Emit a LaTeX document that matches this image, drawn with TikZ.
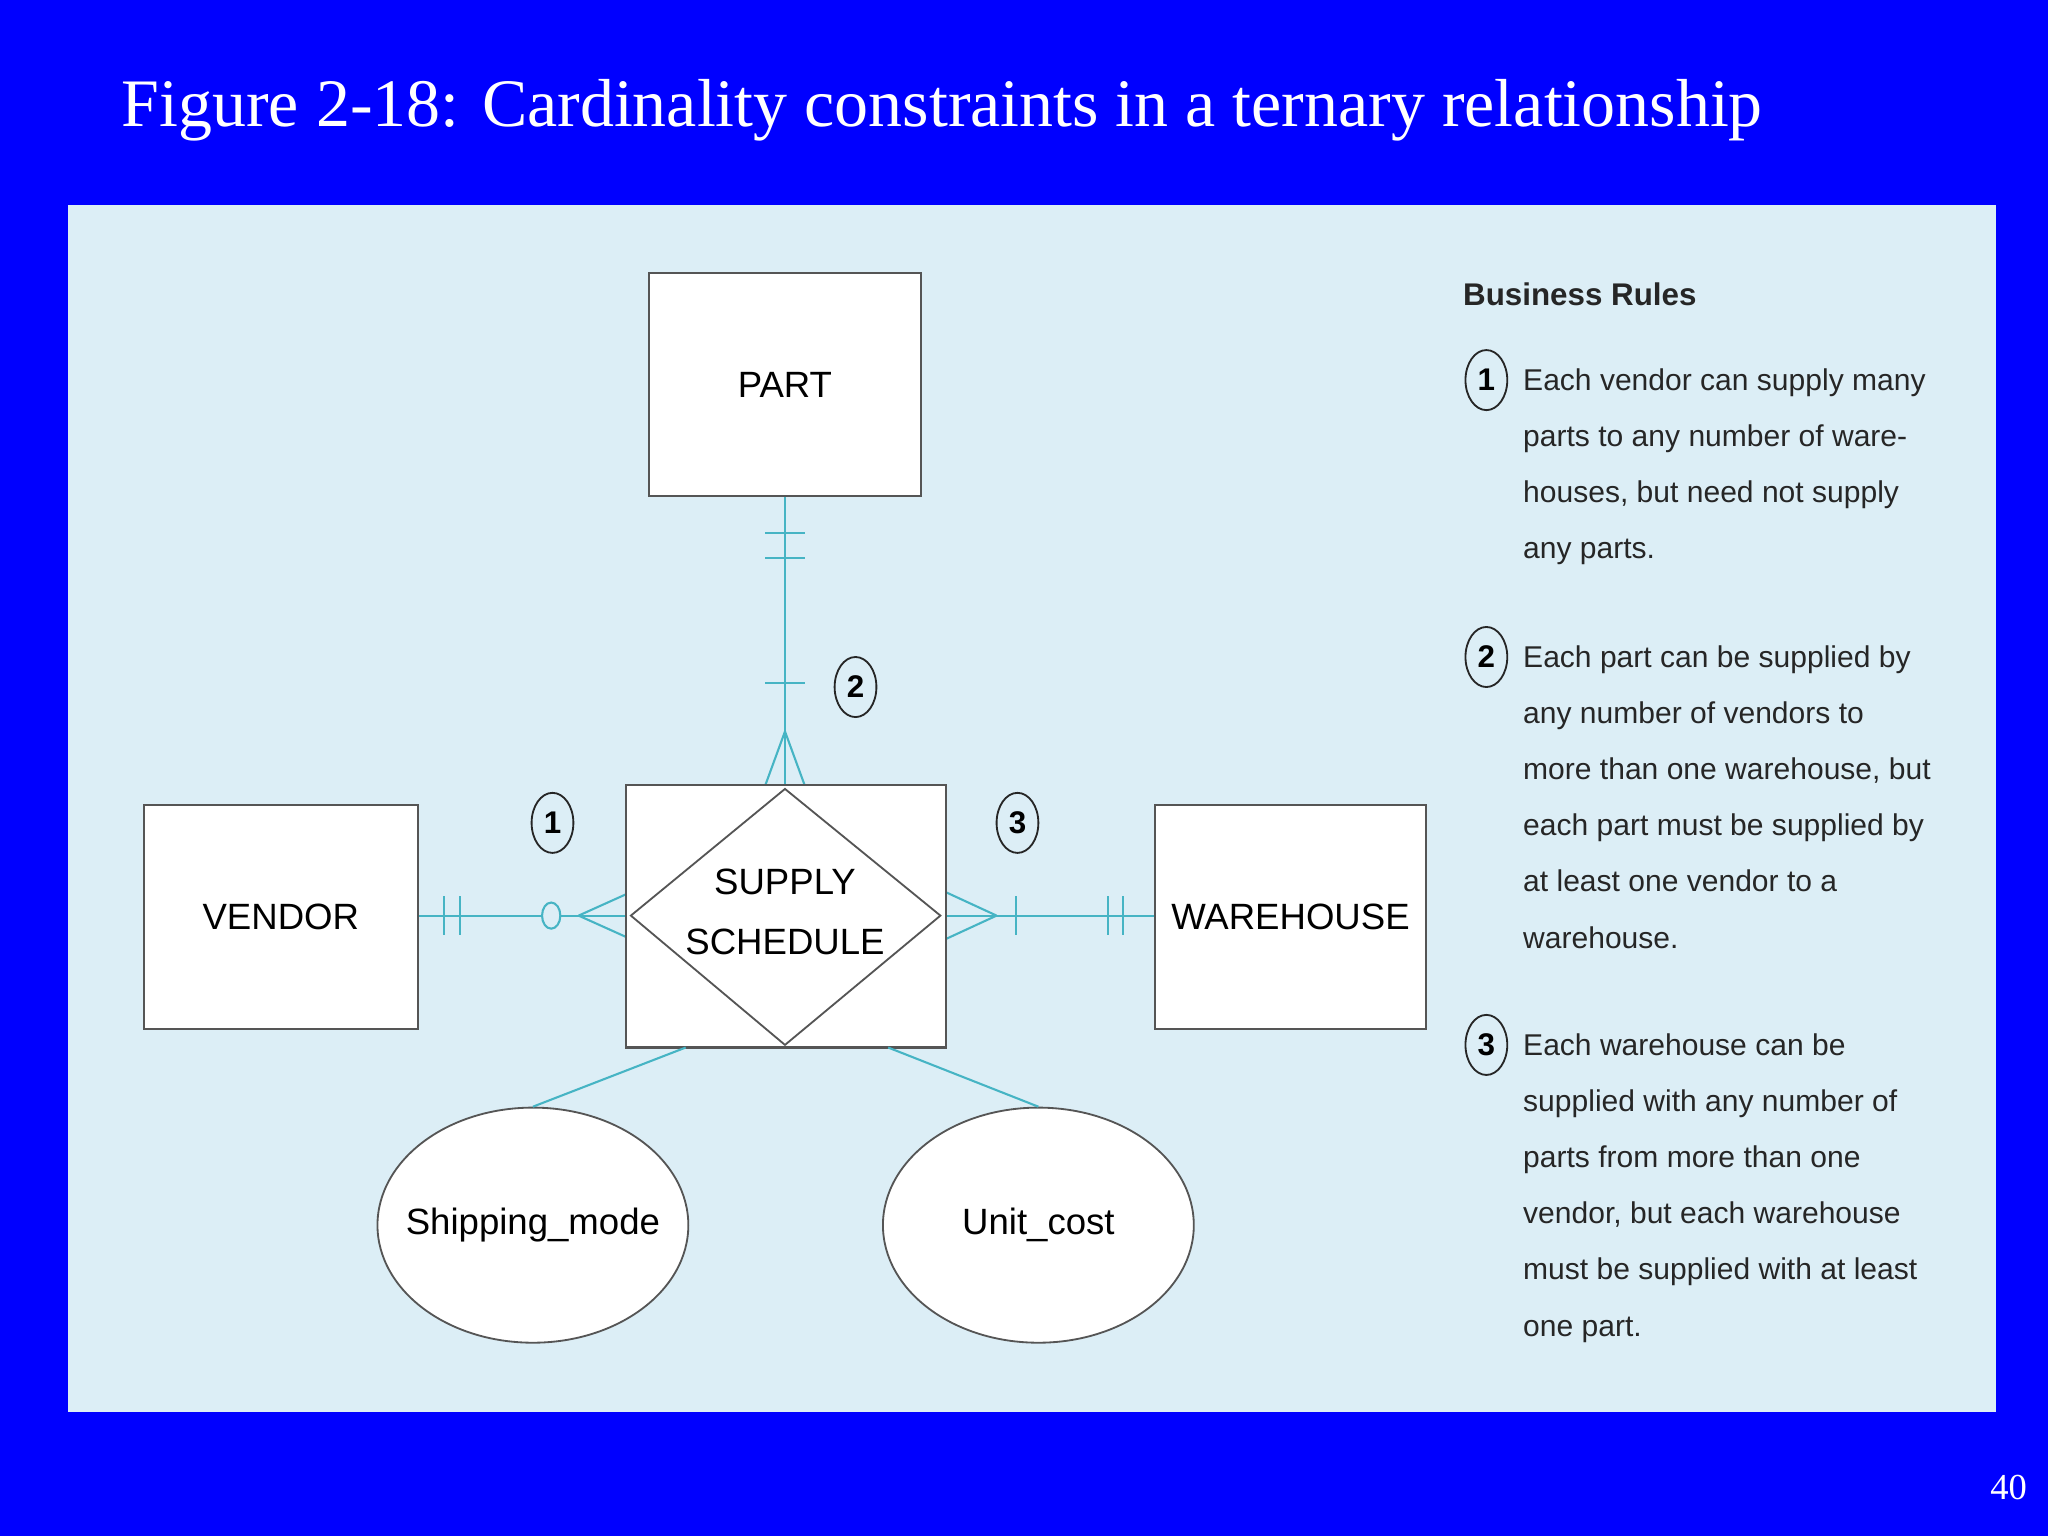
\documentclass[tikz,border=0pt]{standalone}
\usepackage{fontspec}
\setmainfont{Liberation Serif}
\newfontfamily\dsans{Liberation Sans}
\usetikzlibrary{shapes.geometric}
\definecolor{bgblue}{HTML}{0000FF}
\definecolor{panel}{HTML}{DCEEF6}
\definecolor{teal}{HTML}{46B4C4}
\definecolor{edge}{HTML}{555555}
\tikzset{x=1pt,y=-1pt,
 ent/.style={draw=edge,line width=1.6pt,fill=white,font=\dsans\fontsize{28}{30}\selectfont,inner sep=0pt},
 attr/.style={ellipse,draw=edge,line width=1.4pt,fill=white,inner ysep=0pt,inner xsep=-30pt,minimum width=238pt,minimum height=180pt,font=\dsans\fontsize{28}{30}\selectfont},
 conn/.style={draw=teal,line width=1.6pt},
 num/.style={ellipse,draw=black!85,line width=1.4pt,minimum width=32pt,minimum height=46pt,inner sep=0pt,font=\dsans\bfseries\fontsize{24}{26}\selectfont},
 rule/.style={anchor=north west,align=left,inner sep=0pt,font=\dsans\fontsize{23}{43}\selectfont,text=black!85}}
\begin{document}
\begin{tikzpicture}
\fill[bgblue] (0,0) rectangle (1568,1176);
\useasboundingbox (0,0) rectangle (1568,1176);
\node[anchor=base west,text=white,font=\fontsize{52}{56}\selectfont,inner sep=0pt] (title) at (93,97) {Figure 2-18: Cardinality constraints in a ternary relationship};
\node[anchor=base east,text=white,font=\fontsize{28}{30}\selectfont,inner sep=0pt] (pg) at (1552,1148) {40};
\fill[panel] (52,157) rectangle (1528,1081);
\coordinate (pb) at (601,380);
\coordinate (st) at (601,601);
\draw[conn] (pb) -- (st);
\draw[conn] (586,408) -- (616,408) (586,427) -- (616,427) (586,523) -- (616,523);
\draw[conn] (601,560) -- (586,601) (601,560) -- (616,601);
\coordinate (vr) at (320,701);
\coordinate (dl) at (483,701);
\draw[conn] (vr) -- (dl);
\draw[conn] (340,686) -- (340,716) (352,686) -- (352,716);
\draw[conn,fill=panel] (422,701) ellipse (7 and 10);
\draw[conn] (443,701) -- (483,683) (443,701) -- (483,719);
\coordinate (dr) at (720,701);
\coordinate (wl) at (884,701);
\draw[conn] (dr) -- (wl);
\draw[conn] (763,701) -- (724,683) (763,701) -- (724,719);
\draw[conn] (778,686) -- (778,716) (848,686) -- (848,716) (860,686) -- (860,716);
\node[ent,minimum width=208pt,minimum height=171pt] (part) at (601,294.5) {PART};
\node[ent,minimum width=210pt,minimum height=172pt] (vendor) at (215,702) {VENDOR};
\node[ent,minimum width=208pt,minimum height=172pt] (wh) at (988,702) {WAREHOUSE};
\node[ent,minimum width=245pt,minimum height=201pt] (ss) at (601.5,701.5) {};
\draw[edge,line width=1.4pt] (601,604) -- (720,701) -- (601,800) -- (483,701) -- cycle;
\node[font=\dsans\fontsize{28}{46}\selectfont,align=center] (sst) at (601,698) {SUPPLY\\SCHEDULE};
\node[attr] (ship) at (408,938) {Shipping\_mode};
\node[attr] (unit) at (795,938) {Unit\_cost};
\draw[conn] (525,802) -- (ship.north);
\draw[conn] (680,802) -- (unit.north);
\node[num] (n1) at (423,630) {1};
\node[num] (n2) at (655,526) {2};
\node[num] (n3) at (779,630) {3};
\node[anchor=base west,inner sep=0pt,font=\dsans\bfseries\fontsize{24}{26}\selectfont,text=black!85] (br) at (1120,234) {Business Rules};
\node[num] (r1) at (1138,291) {1};
\node[num] (r2) at (1138,503) {2};
\node[num] (r3) at (1138,800) {3};
\node[rule] (t1) at (1166,282) {Each vendor can supply many\\parts to any number of ware-\\houses, but need not supply\\any parts.};
\node[rule] (t2) at (1166,494) {Each part can be supplied by\\any number of vendors to\\more than one warehouse, but\\each part must be supplied by\\at least one vendor to a\\warehouse.};
\node[rule] (t3) at (1166,791) {Each warehouse can be\\supplied with any number of\\parts from more than one\\vendor, but each warehouse\\must be supplied with at least\\one part.};
\end{tikzpicture}
\end{document}
